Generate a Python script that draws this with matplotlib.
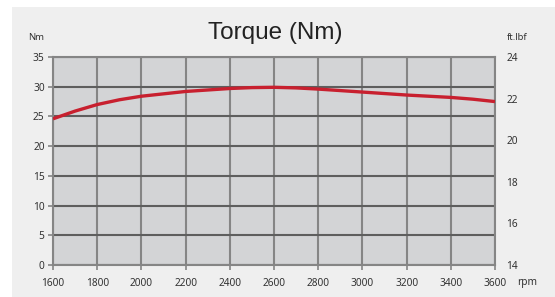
import matplotlib
matplotlib.use("Agg")
import matplotlib.pyplot as plt
from matplotlib import font_manager
from matplotlib.patches import Rectangle

# Data
rpm = [1600, 1700, 1800, 1900, 2000, 2100, 2200, 2300, 2400, 2500, 2600,
       2700, 2800, 2900, 3000, 3100, 3200, 3300, 3400, 3500, 3600]
torque_nm = [24.6, 25.9, 27.0, 27.8, 28.4, 28.8, 29.2, 29.45, 29.7, 29.85, 29.9,
             29.8, 29.6, 29.35, 29.1, 28.85, 28.6, 28.4, 28.2, 27.9, 27.5]

x_ticks = [1600, 1800, 2000, 2200, 2400, 2600, 2800, 3000, 3200, 3400, 3600]
y_ticks_nm = [0, 5, 10, 15, 20, 25, 30, 35]
y_ticks_ftlbf = [14, 16, 18, 20, 22, 24]

LINE_COLOR = "#c8202f"
PANEL_COLOR = "#efefef"
PLOT_BG = "#d3d4d6"
VGRID = "#858585"
HGRID = "#5e5e5e"
TEXT_COLOR = "#333333"


def font_file(name):
    for path in font_manager.findSystemFonts():
        if path.endswith(name):
            return font_manager.FontProperties(fname=path)
    return font_manager.FontProperties(family="DejaVu Sans")


title_font = font_file("LiberationSans-Regular.ttf")
title_font.set_size(17.5)
plt.rcParams["font.family"] = ["Noto Sans", "DejaVu Sans"]

fig = plt.figure(figsize=(5.55, 2.97), dpi=100)
fig.patch.set_facecolor("white")

# Light gray panel behind the chart
fig.patches.append(Rectangle((12 / 555, 0), 1, 1 - 7 / 297, transform=fig.transFigure,
                             facecolor=PANEL_COLOR, edgecolor="none", zorder=-10))

ax = fig.add_axes([53 / 555, 32 / 297, 442 / 555, 208 / 297])
ax.set_facecolor(PLOT_BG)

# Grid
for x in x_ticks:
    ax.axvline(x, color=VGRID, linewidth=1.5, zorder=1)
for y in y_ticks_nm:
    ax.axhline(y, color=HGRID, linewidth=1.5, zorder=1)

# Torque curve
ax.plot(rpm, torque_nm, color=LINE_COLOR, linewidth=2.4, zorder=3,
        solid_capstyle="butt", solid_joinstyle="round")

ax.set_xlim(1600, 3600)
ax.set_ylim(0, 35)
ax.set_xticks(x_ticks)
ax.set_yticks(y_ticks_nm)

for side in ["top", "right", "left", "bottom"]:
    ax.spines[side].set_color(VGRID)
    ax.spines[side].set_linewidth(1.5)

ax.tick_params(axis="both", colors=VGRID, labelcolor=TEXT_COLOR, labelsize=7.3,
               direction="out", length=3.5, width=1.2)
ax.tick_params(axis="y", pad=2.5)
ax.tick_params(axis="x", pad=6)

# Secondary axis in ft.lbf
ax2 = ax.twinx()
ax2.set_ylim(14, 24)
ax2.set_yticks(y_ticks_ftlbf)
ax2.tick_params(axis="y", length=0, pad=8, labelsize=7.3, labelcolor=TEXT_COLOR)
for side in ["top", "right", "left", "bottom"]:
    ax2.spines[side].set_visible(False)

# Titles and unit labels
fig.text(275 / 555, 1 - 33 / 297, "Torque (Nm)", ha="center", va="center",
         color="#222222", fontproperties=title_font)
fig.text(36 / 555, 1 - 38 / 297, "Nm", ha="center", va="center", fontsize=6.8,
         color=TEXT_COLOR)
fig.text(517 / 555, 1 - 38 / 297, "ft.lbf", ha="center", va="center", fontsize=6.8,
         color=TEXT_COLOR)
fig.text(527 / 555, 1 - 283 / 297, "rpm", ha="center", va="center", fontsize=7.3,
         color=TEXT_COLOR)

fig.savefig("out.png", dpi=100)
